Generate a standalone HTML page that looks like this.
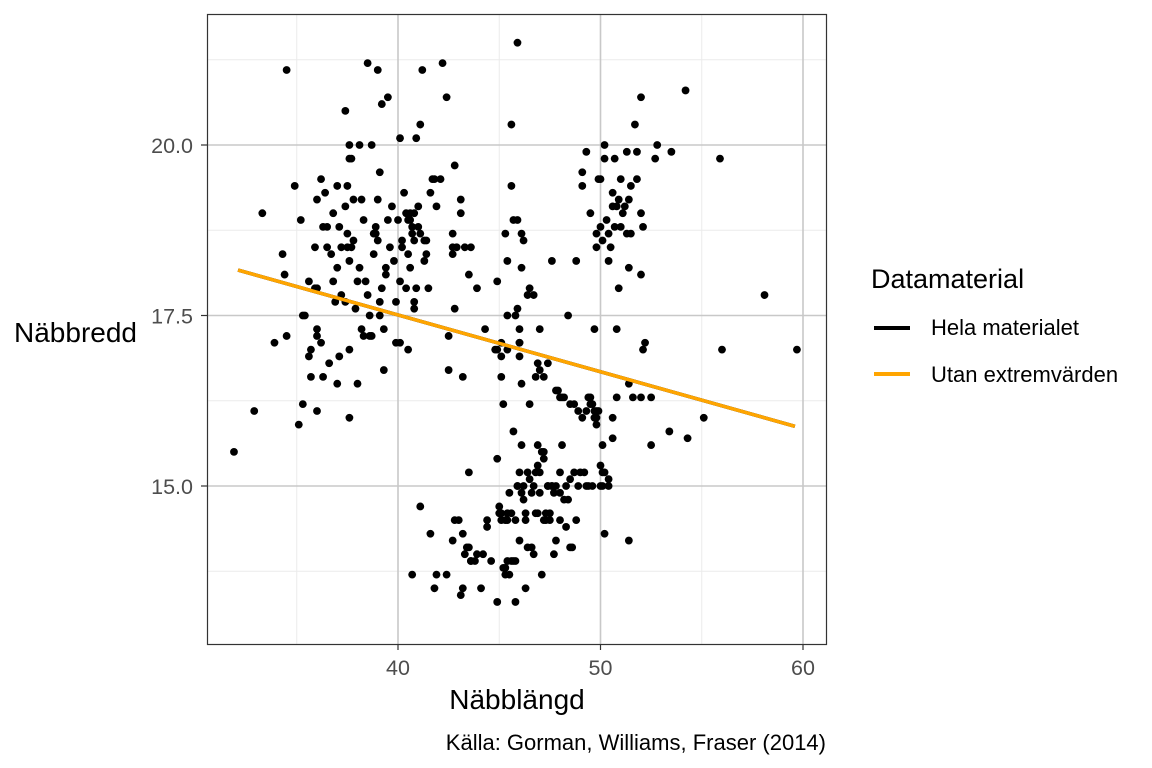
<!DOCTYPE html>
<html><head><meta charset="utf-8"><style>
html,body{margin:0;padding:0;background:#fff;width:1152px;height:768px;overflow:hidden}
svg{font-family:"Liberation Sans",Arial,sans-serif}
</style></head><body>
<svg id="chart" width="1152" height="768" viewBox="0 0 1152 768" xmlns="http://www.w3.org/2000/svg">
<rect width="1152" height="768" fill="#fff"/>
<g id="grid"></g>
<g id="lines"></g>
<g id="points"></g>
<rect x="207.5" y="14.5" width="619" height="630" fill="none" stroke="#333" stroke-width="1.2"/>
<g id="ticks"></g>
<text x="517" y="709" font-size="28" text-anchor="middle" fill="#000">Näbblängd</text>
<text x="14" y="342" font-size="28" fill="#000">Näbbredd</text>
<text x="826" y="750" font-size="22" text-anchor="end" fill="#000">Källa: Gorman, Williams, Fraser (2014)</text>
<g>
<text x="871" y="288" font-size="27" fill="#000">Datamaterial</text>
<g>
<line x1="874" y1="328" x2="910" y2="328" stroke="#000" stroke-width="4"/>
<text x="931" y="335" font-size="22" fill="#000">Hela materialet</text></g>
<g>
<line x1="874" y1="374" x2="910" y2="374" stroke="#FFA500" stroke-width="4"/>
<text x="931" y="382" font-size="22" fill="#000">Utan extremvärden</text></g>
</g>
</svg>
<script>
const xs=[31.9,32.9,33.3,34.5,33.9,34.3,34.4,34.5,34.9,35.1,35.2,35.3,35.3,35.4,35.6,35.6,35.7,35.7,35.9,35.9,36.0,36.0,36.0,36.0,36.0,36.2,36.2,36.3,36.3,36.4,36.5,36.5,36.6,36.7,36.8,36.8,36.9,37.0,37.0,37.0,37.1,37.1,37.2,37.2,37.4,37.4,37.4,37.5,37.5,37.5,37.6,37.6,37.6,37.6,37.6,37.7,37.7,37.8,37.8,37.9,38.0,38.0,38.1,38.1,38.2,38.2,38.3,38.3,38.4,38.5,38.5,38.6,38.6,38.7,38.7,38.8,38.8,38.9,38.9,39.0,39.0,39.0,39.1,39.1,39.1,39.2,39.2,39.3,39.3,39.4,39.4,39.5,39.5,39.6,39.7,39.8,39.9,39.9,40.0,40.1,40.1,40.1,40.2,40.2,40.3,40.4,40.4,40.5,40.5,40.5,40.6,40.6,40.6,40.7,40.7,40.8,40.8,40.8,40.8,40.9,40.9,41.0,41.0,41.1,41.1,41.2,41.3,41.3,41.4,41.4,41.5,41.6,41.7,41.8,41.9,42.1,42.2,42.4,42.5,42.5,42.7,42.7,42.7,42.8,42.8,42.9,43.1,43.1,43.2,43.3,43.5,43.6,43.9,44.3,44.9,45.1,45.3,45.4,45.4,45.6,45.6,45.7,45.9,45.9,45.9,46.0,46.0,46.0,46.1,46.1,46.2,46.4,46.5,46.7,47.0,47.0,47.6,48.4,48.8,49.1,49.1,49.3,49.5,49.7,49.8,49.8,49.9,50.0,50.0,50.1,50.2,50.2,50.3,50.4,50.4,50.5,50.6,50.6,50.7,50.7,50.8,50.8,50.9,50.9,51.0,51.0,51.1,51.2,51.3,51.3,51.4,51.4,51.5,51.5,51.7,51.8,51.8,52.0,52.0,52.0,52.1,52.1,52.2,52.7,52.8,53.5,54.2,55.9,56.0,58.1,59.7,52.0,50.8,50.6,52.5,53.4,54.3,55.1,52.5,51.4,
40.7,41.1,41.6,41.8,41.9,42.4,42.7,42.8,43.0,43.1,43.2,43.2,43.3,43.4,43.5,43.5,43.6,43.6,43.8,43.9,44.1,44.2,44.4,44.4,44.6,44.9,44.9,45.0,45.0,45.1,45.1,45.2,45.3,45.3,45.3,45.4,45.4,45.4,45.5,45.5,45.6,45.6,45.7,45.7,45.8,45.8,45.8,45.9,45.9,46.0,46.0,46.1,46.1,46.2,46.2,46.3,46.3,46.3,46.4,46.4,46.5,46.6,46.6,46.7,46.7,46.8,46.8,46.9,46.9,46.9,47.0,47.0,47.1,47.1,47.2,47.2,47.2,47.3,47.3,47.4,47.4,47.5,47.5,47.6,47.6,47.7,47.7,47.8,47.8,47.9,48.0,48.0,48.0,48.1,48.1,48.2,48.3,48.3,48.4,48.5,48.5,48.5,48.6,48.7,48.7,48.8,48.9,48.9,49.0,49.1,49.2,49.3,49.3,49.4,49.4,49.5,49.5,49.6,49.6,49.7,49.7,49.8,49.8,49.8,49.9,50.0,50.0,50.1,50.1,50.1,50.2,50.2,50.4,50.4,50.6,51.4,51.6,
44.8,44.9,45.1,45.1,45.2,45.4,45.8,46.0,46.1,46.5,46.8,46.9,47.2,47.4,47.8,48.0,48.2];
const ys=[15.5,16.1,19.0,21.1,17.1,18.4,18.1,17.2,19.4,15.9,18.9,16.2,17.5,17.5,18.0,16.9,17.0,16.6,17.9,18.5,19.2,17.9,16.1,17.3,17.2,19.5,17.1,16.6,18.8,19.3,18.5,18.8,16.8,18.4,18.0,19.0,17.7,16.5,18.2,19.4,18.8,16.9,17.8,18.5,19.1,17.7,20.5,19.4,18.7,18.5,17.0,16.0,18.3,20.0,19.8,19.8,18.5,19.2,18.6,17.6,16.5,18.0,20.0,18.2,17.3,19.2,18.9,17.2,18.0,21.2,17.8,17.5,17.2,17.2,20.0,18.4,18.7,18.8,18.7,18.6,19.2,21.1,19.6,17.5,17.7,20.6,17.9,16.7,17.3,18.2,18.1,20.7,18.9,18.5,19.1,18.3,17.7,17.1,18.9,17.1,20.1,18.0,18.5,18.6,19.3,19.0,17.9,17.0,18.9,18.4,18.9,19.0,18.2,18.7,18.8,17.6,17.7,19.0,18.6,20.1,17.9,18.8,19.1,18.7,20.3,21.1,18.6,18.3,18.4,18.6,17.9,19.3,19.5,19.5,19.1,19.5,21.2,20.7,16.7,17.2,18.7,18.5,18.4,19.7,17.6,18.5,19.2,19.0,16.6,18.5,18.1,18.5,17.9,17.3,18.0,17.1,18.7,17.5,18.3,19.4,20.3,18.9,18.9,17.6,21.5,17.1,17.3,17.1,18.7,18.2,18.6,17.8,17.9,17.8,17.3,16.7,18.3,17.5,18.3,19.4,19.6,19.9,19.0,17.3,18.5,18.7,19.5,18.8,19.5,18.6,20.0,19.8,18.9,18.7,18.3,18.5,19.3,19.1,18.8,19.8,17.3,19.1,19.2,17.9,19.5,18.8,19.0,19.1,18.7,19.9,18.2,19.2,19.4,18.7,20.3,19.5,19.9,20.7,19.0,18.1,17.0,18.8,17.1,19.8,20.0,19.9,20.8,19.8,17.0,17.8,17.0,16.3,16.3,15.7,15.6,15.8,15.7,16.0,16.3,16.5,
13.7,14.7,14.3,13.5,13.7,13.7,14.2,14.5,14.5,13.4,14.3,13.5,14.0,14.1,15.2,14.1,13.9,13.9,13.9,14.0,13.5,14.0,14.4,14.5,13.9,13.3,15.4,14.6,14.7,14.5,14.6,13.8,13.8,13.7,14.5,13.9,14.5,14.6,13.7,14.9,14.6,13.9,13.9,15.8,13.3,13.9,14.5,15.0,15.0,14.2,15.2,14.9,15.6,14.8,15.0,13.5,14.6,14.5,14.1,15.2,15.1,14.1,14.9,14.0,15.0,15.2,14.6,15.3,15.6,14.6,15.2,14.9,15.5,13.7,15.4,15.5,14.5,14.6,14.5,15.0,15.0,14.5,14.6,15.0,15.0,14.0,14.9,15.0,14.2,16.4,15.2,14.5,14.9,16.3,15.6,14.8,14.4,15.0,14.8,14.1,16.2,15.1,14.1,15.2,16.2,14.5,16.1,15.0,15.2,16.0,15.2,15.0,16.1,16.3,15.0,16.3,16.2,16.2,15.0,16.1,16.0,16.0,16.1,15.9,16.1,15.3,15.0,15.2,15.6,15.0,14.3,15.2,15.1,15.0,16.0,14.2,16.3,
17.0,17.0,16.9,16.6,16.2,17.0,17.5,16.9,16.5,16.2,16.6,16.8,16.6,16.8,16.4,16.3,16.3];
const xTicks=[40,50,60];
const yTicks=[15.0,17.5,20.0];
const xMinor=[35,45,55];
const yMinor=[13.75,16.25,18.75,21.25];
const fitNames=["hela-materialet","utan-extremvarden"];
const fitIntercept=[20.84,20.84];
const fitSlope=[-0.0833,-0.0833];
const fitRange=[32.1,59.6];
const fitColors=["#000000","#FFA500"];

const X=v=>398+(v-40)*20.25;
const Y=v=>145-(v-20)*68.2;
const NS="http://www.w3.org/2000/svg";
function mk(tag,attrs,parent){const e=document.createElementNS(NS,tag);for(const k in attrs)e.setAttribute(k,attrs[k]);parent.appendChild(e);return e;}
const grid=document.getElementById('grid');
xMinor.forEach(v=>{const l=mk('line',{x1:X(v),x2:X(v),y1:14,y2:644,stroke:'#ebebeb','stroke-width':1},grid);

});
yMinor.forEach(v=>{const l=mk('line',{x1:207,x2:826,y1:Y(v),y2:Y(v),stroke:'#ebebeb','stroke-width':1},grid);

});
xTicks.forEach(v=>{const l=mk('line',{x1:X(v),x2:X(v),y1:14,y2:644,stroke:'#c8c8c8','stroke-width':1.6},grid);

});
yTicks.forEach(v=>{const l=mk('line',{x1:207,x2:826,y1:Y(v),y2:Y(v),stroke:'#c8c8c8','stroke-width':1.6},grid);

});
const ticks=document.getElementById('ticks');
xTicks.forEach(v=>{mk('line',{x1:X(v),x2:X(v),y1:644,y2:650,stroke:'#333','stroke-width':1.2},ticks);
const t=mk('text',{x:X(v),y:675,'font-size':21.5,'text-anchor':'middle',fill:'#4d4d4d'},ticks);t.textContent=String(v);

});
yTicks.forEach(v=>{mk('line',{x1:201,x2:207,y1:Y(v),y2:Y(v),stroke:'#333','stroke-width':1.2},ticks);
const t=mk('text',{x:193,y:Y(v)+8,'font-size':21.5,'text-anchor':'end',fill:'#4d4d4d'},ticks);t.textContent=v.toFixed(1);

});
const pts=document.getElementById('points');
xs.forEach((x,i)=>{const c=mk('circle',{cx:X(x),cy:Y(ys[i]),r:3.9,fill:'#000'},pts);

});
const lines=document.getElementById('lines');
fitNames.forEach((n,i)=>{const x0=fitRange[0],x1=fitRange[1];
const l=mk('line',{x1:X(x0),y1:Y(fitIntercept[i]+fitSlope[i]*x0),x2:X(x1),y2:Y(fitIntercept[i]+fitSlope[i]*x1),stroke:fitColors[i],'stroke-width':3.5},lines);

});
document.getElementById('chart').appendChild(lines);
</script>
</body></html>
